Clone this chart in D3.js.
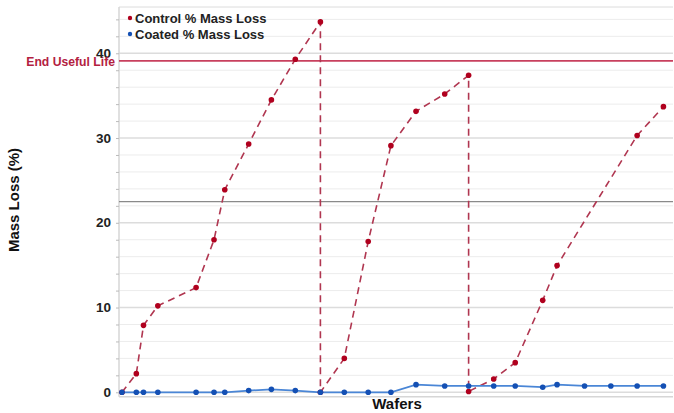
<!DOCTYPE html>
<html><head><meta charset="utf-8">
<script src="https://cdn.jsdelivr.net/npm/d3@7"></script>
<style>body{margin:0;background:#fff}svg{display:block}</style>
</head><body><svg id="c" width="674" height="413"></svg>
<script>
// Wafer sampling positions (arbitrary time units) and % mass loss
const controlX = [0, 0.6, 0.9, 1.5, 3.1, 3.85, 4.3, 5.3, 6.25, 7.25, 8.3, 8.3, 9.3, 10.3, 11.25, 12.3, 13.5, 14.5, 14.5, 15.55, 16.45, 17.6, 18.2, 21.55, 22.65];
const controlY = [0, 2.2, 7.9, 10.2, 12.35, 18.0, 23.9, 29.3, 34.5, 39.3, 43.7, 0, 4.0, 17.8, 29.1, 33.15, 35.2, 37.4, 0.1, 1.57, 3.5, 10.85, 14.95, 30.3, 33.7];
const coatedX = [0, 0.6, 0.9, 1.5, 3.1, 3.85, 4.3, 5.3, 6.25, 7.25, 8.3, 9.3, 10.3, 11.25, 12.3, 13.5, 14.5, 15.55, 16.45, 17.6, 18.2, 19.35, 20.45, 21.55, 22.65];
const coatedY = [0, 0, 0, 0, 0, 0, 0, 0.2, 0.35, 0.2, 0, 0, 0, 0, 0.9, 0.75, 0.75, 0.75, 0.75, 0.6, 0.9, 0.75, 0.75, 0.75, 0.75];
const yTicks = [0, 10, 20, 30, 40];
const minorTicks = d3.range(0, 46, 2);
const endUsefulLife = 39.1;
const refLine = 22.5;
const seriesNames = ["Control % Mass Loss", "Coated % Mass Loss"];

const svg = d3.select("#c");
const L = 119, R = 673, T = 7, B = 396.7;
const x = d3.scaleLinear().domain([-0.125, 23.05]).range([L, R]);
const y = d3.scaleLinear().domain([-0.52, 45.46]).range([B, T]);

// gridlines
svg.append("g").selectAll("line").data(minorTicks).join("line")
  .attr("x1", L).attr("x2", R).attr("y1", d => y(d)).attr("y2", d => y(d))
  .attr("stroke", d => d % 10 === 0 ? "#dcdcdc" : "#ececec").attr("stroke-width", d => d % 10 === 0 ? 1.5 : 1);
// border
svg.append("line").attr("x1", L).attr("x2", R).attr("y1", T).attr("y2", T).attr("stroke", "#dcdcdc");
svg.append("line").attr("x1", L).attr("x2", R).attr("y1", B).attr("y2", B).attr("stroke", "#d6d6d6").attr("stroke-width", 1.5);
svg.append("line").attr("x1", L).attr("x2", L).attr("y1", T).attr("y2", B).attr("stroke", "#d6d6d6").attr("stroke-width", 1.5);

// y axis
const ax = svg.append("g").attr("transform", `translate(${L},0)`)
  .call(d3.axisLeft(y).tickValues(minorTicks).tickSize(3).tickFormat(d => yTicks.includes(d) ? d : ""));
ax.select(".domain").remove();
ax.selectAll(".tick line").attr("stroke", "#bbb");
ax.selectAll(".tick text").attr("font-family", "Liberation Sans, Arial, sans-serif")
  .attr("font-size", 13.5).attr("font-weight", "bold").attr("fill", "#222").attr("dx", -2).attr("dy", "0.3em");

// reference lines
svg.append("line").attr("x1", L).attr("x2", R).attr("y1", y(refLine)).attr("y2", y(refLine))
  .attr("stroke", "#8a8a8a").attr("stroke-width", 1.2);
svg.append("line").attr("x1", L).attr("x2", R).attr("y1", y(endUsefulLife)).attr("y2", y(endUsefulLife))
  .attr("stroke", "#c8405e").attr("stroke-width", 1.8);
svg.append("text").attr("x", 115).attr("y", y(endUsefulLife) + 5).attr("text-anchor", "end")
  .attr("font-family", "Liberation Sans, Arial, sans-serif").attr("font-size", 12.2).attr("font-weight", "bold")
  .attr("fill", "#b3213f").text("End Useful Life");

// series
const line = d3.line().x(d => x(d[0])).y(d => y(d[1]));
const ctrl = controlX.map((v, i) => [v, controlY[i]]);
const coat = coatedX.map((v, i) => [v, coatedY[i]]);

svg.append("path").datum(ctrl).attr("d", line).attr("fill", "none")
  .attr("stroke", "#b03650").attr("stroke-width", 1.6).attr("stroke-dasharray", "7,5");
svg.append("path").datum(coat).attr("d", line).attr("fill", "none")
  .attr("stroke", "#4a86d6").attr("stroke-width", 1.8);
svg.append("g").selectAll("circle").data(ctrl).join("circle")
  .attr("cx", d => x(d[0])).attr("cy", d => y(d[1])).attr("r", 2.8).attr("fill", "#b0001e");
svg.append("g").selectAll("circle").data(coat).join("circle")
  .attr("cx", d => x(d[0])).attr("cy", d => y(d[1])).attr("r", 2.8).attr("fill", "#1450b4");

// legend
const lg = svg.append("g");
const colors = ["#b0001e", "#1450b4"];
seriesNames.forEach((n, i) => {
  lg.append("circle").attr("cx", 130).attr("cy", 18 + i * 16).attr("r", 2.2).attr("fill", colors[i]);
  lg.append("text").attr("x", 135).attr("y", 22.5 + i * 16)
    .attr("font-family", "Liberation Sans, Arial, sans-serif").attr("font-size", 13).attr("font-weight", "bold")
    .attr("fill", "#222").text(n);
});

// axis titles
svg.append("text").attr("transform", `translate(19,${200}) rotate(-90)`).attr("text-anchor", "middle")
  .attr("font-family", "Liberation Sans, Arial, sans-serif").attr("font-size", 15).attr("font-weight", "bold")
  .attr("fill", "#111").text("Mass Loss (%)");
svg.append("text").attr("x", 397).attr("y", 409).attr("text-anchor", "middle")
  .attr("font-family", "Liberation Sans, Arial, sans-serif").attr("font-size", 15).attr("font-weight", "bold")
  .attr("fill", "#111").text("Wafers");
</script></body></html>
